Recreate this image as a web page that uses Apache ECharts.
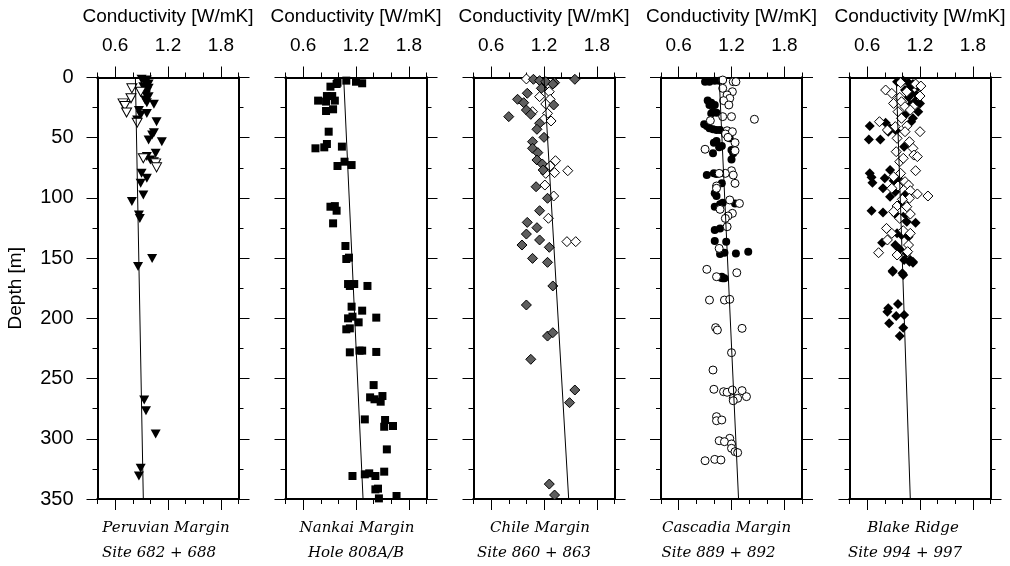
<!DOCTYPE html>
<html><head><meta charset="utf-8">
<script src="https://cdn.jsdelivr.net/npm/echarts@6/dist/echarts.min.js"></script>
<style>html,body{margin:0;padding:0;background:#fff}#c{width:1010px;height:566px}</style>
</head><body><div id="c"></div>
<script>
// ---- axis / label data ----
const xMajorTicks = [0.6, 1.2, 1.8];
const depthRange = [0, 350];
const condRange = [0.4, 2.0];
const axisTitle = 'Conductivity [W/mK]';
const depthTitle = 'Depth [m]';
const siteNames = [
  ['Peruvian Margin', 'Site 682 + 688'],
  ['Nankai Margin', 'Hole 808A/B'],
  ['Chile Margin', 'Site 860 + 863'],
  ['Cascadia Margin', 'Site 889 + 892'],
  ['Blake Ridge', 'Site 994 + 997']
];

// ---- series data: [conductivity W/mK, depth m] ----
const peruFilled = [[0.90,1.5],[0.96,2.1],[0.94,4.3],[0.98,5.4],[0.92,7.6],[0.98,9],[0.96,11.8],[0.95,14.5],[0.98,15.9],[0.94,18.7],[0.96,20.9],[1.04,22.3],[0.87,27.5],[0.96,29.8],[0.89,31.1],[0.85,35.3],[1.07,36.7],[1.04,45.8],[1.02,47.7],[0.98,51.9],[1.13,53.3],[1.06,63],[0.96,65.7],[1.00,68.5],[1.04,69.9],[0.90,79.6],[0.96,83.7],[0.89,87.9],[0.92,97.6],[0.79,103],[0.87,114.2],[0.88,117],[1.02,150.2],[0.86,157],[0.93,267.8],[0.95,276.7],[1.06,296],[0.89,324.5],[0.87,331]];
const peruOpen = [[0.79,9],[0.89,11.8],[0.78,17.3],[0.69,21.5],[0.71,23.7],[0.73,29],[0.85,37.5],[0.92,67.1],[1.06,71.3],[1.07,74.6]];
const peruLine = [[0.83,0],[0.92,350]];

const nankaiSquares = [[0.99,4.3],[0.98,5.4],[1.09,2.6],[1.20,3.5],[1.27,4.8],[0.91,7.6],[0.87,15.4],[0.93,15.4],[0.77,19.2],[0.86,20],[0.96,19.2],[0.86,27.8],[0.94,26.4],[0.89,45],[0.87,55.2],[0.84,58],[0.74,58.8],[1.04,57.4],[1.07,69.9],[1.15,72.7],[0.99,73.5],[0.91,107.3],[0.96,106.8],[0.98,110.6],[0.94,121.1],[1.08,139.9],[1.09,150.7],[1.12,149.6],[1.11,171.5],[1.13,173.1],[1.18,171.5],[1.33,173.1],[1.15,190.3],[1.27,193.6],[1.11,200],[1.16,198.6],[1.23,203.3],[1.43,199.4],[1.09,209.1],[1.13,208.3],[1.13,228.2],[1.24,226.8],[1.27,226.8],[1.43,227.9],[1.40,255.4],[1.36,265.6],[1.41,267.2],[1.50,264.5],[1.48,269.2],[1.30,283.9],[1.53,284.4],[1.52,290],[1.62,289.4],[1.55,308.8],[1.16,330.9],[1.30,329.5],[1.35,328.7],[1.42,330.9],[1.52,327.3],[1.42,342],[1.45,341.4],[1.46,349.5],[1.66,347.5]];
const nankaiLine = [[1.06,0],[1.28,350]];

const chileGray = [[1.08,1.5],[1.15,2.6],[1.22,3.5],[1.32,4.3],[1.30,5.4],[1.17,9],[1.55,1.5],[1.01,13.1],[0.90,18.1],[0.97,20.9],[1.31,22.8],[1.00,27],[1.05,30.6],[0.80,32.5],[1.15,38],[1.12,43],[1.20,49.7],[1.07,53.3],[1.07,58.8],[1.13,62.4],[1.12,68.5],[1.18,71.8],[1.19,76.8],[1.11,90.7],[1.24,100.3],[1.15,110.6],[1.01,120.3],[1.12,124.7],[1.00,130],[1.15,134.9],[0.95,139.1],[1.26,141],[1.07,150.2],[1.24,153.5],[1.30,173.1],[1.00,188.9],[1.24,214.7],[1.30,211.9],[1.05,234],[1.55,259.5],[1.49,270],[1.26,337.6],[1.32,346.7]];
const chileOpen = [[1.00,1.2],[1.27,7.1],[1.26,11.8],[1.15,15.9],[1.27,18.1],[1.22,22],[1.07,28.4],[1.24,29.8],[1.20,34.7],[1.28,36.1],[1.33,69.1],[1.27,73.5],[1.22,79.6],[1.32,79],[1.47,77.4],[1.21,89.3],[1.31,98.4],[1.25,116.9],[1.46,136.3],[1.56,136.3]];
const chileLine = [[1.20,0],[1.48,350]];

const cascFilled = [[0.90,3.5],[0.95,3.5],[1.01,2.6],[1.06,2.6],[0.93,19.2],[0.97,20.9],[0.95,22.8],[1.01,22.8],[0.99,28.4],[1.03,29.2],[0.97,29.8],[0.89,38.9],[0.92,40.3],[0.95,42.2],[0.99,43],[1.03,43.6],[1.07,43.6],[1.18,50.5],[1.03,52.7],[1.00,54.1],[1.09,56.9],[1.06,58],[0.99,63],[1.20,60.2],[1.22,63],[1.20,68],[0.92,81],[1.00,79.6],[1.03,80.1],[1.09,87.9],[1.01,96.2],[1.03,98.4],[1.01,107.3],[1.07,105.2],[1.10,103.9],[1.24,104.6],[1.01,126.6],[1.07,125.3],[1.01,135.8],[1.14,136.3],[1.07,146.6],[1.12,145.5],[1.25,146.1],[1.39,144.6],[1.09,165.4],[1.12,166.8],[1.08,166.2],[1.10,166.8]];
const cascOpen = [[1.10,2.1],[1.22,3.5],[1.25,3.5],[1.10,9],[1.21,11.8],[1.15,14.5],[1.18,17.3],[1.11,19.2],[1.17,22.8],[1.10,32.5],[1.20,32.5],[1.46,34.7],[0.96,35.8],[1.15,44.2],[1.21,45],[1.13,46.9],[1.16,49.7],[1.24,54.1],[0.90,59.6],[1.24,60.8],[1.20,77.4],[1.22,81],[1.13,79.6],[1.06,79.6],[1.24,87.9],[1.03,90.1],[1.03,92],[1.18,101.7],[1.29,104.6],[1.07,109.5],[1.21,112.8],[1.16,115],[1.13,117],[1.15,123.9],[1.06,141.9],[0.92,159.3],[1.26,162.1],[1.03,165.4],[0.95,184.8],[1.12,184.8],[1.18,184.2],[1.02,207.7],[1.04,209.7],[1.32,208.3],[1.20,228.5],[0.99,242.9],[1.00,258.9],[1.11,260.9],[1.15,261.4],[1.21,259.5],[1.32,260],[1.22,266.4],[1.27,266.4],[1.37,265],[1.22,268.4],[1.03,281.6],[1.03,285],[1.09,284.4],[1.18,299.6],[1.06,301.6],[1.12,302.4],[1.20,304.3],[1.20,307.9],[1.24,310.7],[1.27,311.5],[0.90,318.2],[1.01,317.1],[1.08,317.6]];
const cascLine = [[1.06,0],[1.28,350]];

const blakeFilled = [[0.94,3.5],[1.01,2.6],[1.07,4.3],[1.12,5.4],[1.18,7.6],[1.09,7.6],[1.03,10.4],[1.10,13.2],[1.16,14.5],[1.07,16.5],[1.14,20.1],[1.20,21.5],[1.09,22.8],[1.18,28.4],[1.03,31.1],[1.12,33.9],[1.10,36.7],[0.63,40.3],[0.81,37.5],[0.86,42.2],[0.62,51.4],[0.75,51.4],[0.84,45],[0.93,44.2],[1.02,57.4],[0.86,76.8],[0.63,79.6],[0.65,82.9],[0.66,87.3],[0.80,83.7],[0.78,92],[0.90,85.7],[0.95,83.7],[0.86,99],[0.92,94.8],[1.03,97.6],[0.98,104.5],[0.65,110.6],[0.78,112.2],[0.93,114.2],[1.01,115.6],[1.15,120.6],[1.05,119.7],[0.94,129.4],[0.99,130.8],[1.07,132.2],[0.77,137.2],[0.92,139.1],[0.97,142.7],[1.05,146],[1.09,151.6],[1.12,152.9],[1.02,151.6],[0.89,160.4],[1.00,162.6],[1.08,152.9],[1.12,153.8],[0.89,161.2],[1.01,164],[0.95,188.1],[0.84,191.7],[0.83,194.5],[0.93,198.1],[1.02,197.2],[0.85,204.1],[1.01,207.7],[0.97,214.7]];
const blakeOpen = [[0.81,10.4],[0.98,4.3],[1.15,5.4],[1.21,7.1],[0.88,13.2],[1.05,11.8],[0.97,16.5],[1.20,15.4],[0.90,21.5],[0.99,20.1],[1.12,24.2],[1.03,24.2],[1.09,27],[0.95,28.4],[0.99,33.9],[0.74,36.7],[0.83,43.6],[0.92,40.8],[1.05,40.3],[1.20,45],[0.94,50.5],[1.03,45],[1.08,53.3],[1.12,58.8],[1.13,64.4],[1.17,65.7],[0.93,61.6],[0.97,69.9],[1.01,67.1],[1.15,77.4],[0.90,82.4],[0.98,79.6],[1.03,86.5],[1.07,89.3],[0.95,90.1],[0.88,92],[1.09,94],[1.29,98.4],[1.17,96.7],[1.08,100.3],[1.00,101.2],[0.94,106.7],[1.05,107.3],[0.90,111.4],[1.09,113.4],[0.97,117],[0.82,125.3],[0.88,129.4],[1.01,127.2],[1.09,129.4],[1.07,139.1],[0.83,134.9],[0.73,145.5],[1.06,144.6],[0.94,147.4]];
const blakeLine = [[0.93,0],[1.09,350]];

// ---- styles ----
const FONT = 'Liberation Sans, Arial, sans-serif';
const BLACK = '#000';
const solid = {color: BLACK, borderColor: BLACK, borderWidth: 0, opacity: 1};
const hollow = {color: '#fff', borderColor: BLACK, borderWidth: 1, opacity: 1};
const gray = {color: '#5e5e5e', borderColor: BLACK, borderWidth: 1, opacity: 1};

const panels = [
  {marks: [
    {data: peruFilled, symbol: 'triangle', size: [10, 9], rotate: 180, style: solid},
    {data: peruOpen, symbol: 'triangle', size: [10, 9], rotate: 180, style: hollow}], line: peruLine},
  {marks: [
    {data: nankaiSquares, symbol: 'rect', size: 8, style: solid}], line: nankaiLine},
  {marks: [
    {data: chileOpen, symbol: 'diamond', size: 10, style: hollow},
    {data: chileGray, symbol: 'diamond', size: 10, style: gray}], line: chileLine},
  {marks: [
    {data: cascFilled, symbol: 'circle', size: 8, style: solid},
    {data: cascOpen, symbol: 'circle', size: 8, style: hollow}], line: cascLine},
  {marks: [
    {data: blakeFilled, symbol: 'diamond', size: 10, style: solid},
    {data: blakeOpen, symbol: 'diamond', size: 10, style: hollow}], line: blakeLine}
];

const lefts = [97.5, 285.5, 473.5, 661, 849.5];
const gridW = 141, gridTop = 77.5, gridH = 421.5;
const nameShift1 = [-2, 1, -4, -5, -7];
const nameShift2 = [-9, 0, -10, -13, -15];

const grids = [], xAxes = [], yAxes = [], series = [], graphics = [];
const lineAx = {show: true, onZero: false, lineStyle: {color: BLACK, width: 2}};
const tickStyle = {color: BLACK, width: 1};

panels.forEach((p, i) => {
  grids.push({left: lefts[i], top: gridTop, width: gridW, height: gridH});
  const bx = {gridIndex: i, type: 'value', min: condRange[0], max: condRange[1], axisLine: lineAx, splitLine: {show: false}};
  xAxes.push(Object.assign({}, bx, {position: 'top',
    name: axisTitle, nameLocation: 'middle', nameGap: 51,
    nameTextStyle: {fontFamily: FONT, fontSize: 19, color: BLACK},
    axisTick: {show: true, customValues: xMajorTicks, length: 11, lineStyle: tickStyle},
    axisLabel: {show: true, customValues: xMajorTicks, margin: 22, fontFamily: FONT, fontSize: 19, color: BLACK, formatter: v => v.toFixed(1)}}));
  xAxes.push(Object.assign({}, bx, {position: 'top', interval: 0.2,
    axisTick: {show: true, length: 5, lineStyle: tickStyle}, axisLabel: {show: false}}));
  xAxes.push(Object.assign({}, bx, {position: 'bottom',
    axisTick: {show: true, customValues: xMajorTicks, length: 11, lineStyle: tickStyle}, axisLabel: {show: false}}));
  xAxes.push(Object.assign({}, bx, {position: 'bottom', interval: 0.2,
    axisTick: {show: true, length: 5, lineStyle: tickStyle}, axisLabel: {show: false}}));

  const by = {gridIndex: i, type: 'value', inverse: true, min: depthRange[0], max: depthRange[1], axisLine: lineAx, splitLine: {show: false}};
  const leftMajor = Object.assign({}, by, {position: 'left', interval: 50,
    axisTick: {show: true, length: 11, lineStyle: tickStyle},
    axisLabel: {show: i === 0, margin: 24, fontFamily: FONT, fontSize: 20, color: BLACK}});
  if (i === 0) Object.assign(leftMajor, {name: depthTitle, nameLocation: 'middle', nameRotate: 90, nameGap: 72,
    nameTextStyle: {fontFamily: FONT, fontSize: 19, color: BLACK}});
  yAxes.push(leftMajor);
  yAxes.push(Object.assign({}, by, {position: 'left', interval: 25, axisTick: {show: true, length: 5, lineStyle: tickStyle}, axisLabel: {show: false}}));
  yAxes.push(Object.assign({}, by, {position: 'right', interval: 50, axisTick: {show: true, length: 11, lineStyle: tickStyle}, axisLabel: {show: false}}));
  yAxes.push(Object.assign({}, by, {position: 'right', interval: 25, axisTick: {show: true, length: 5, lineStyle: tickStyle}, axisLabel: {show: false}}));

  p.marks.forEach(m => {
    series.push({type: 'scatter', xAxisIndex: 4 * i, yAxisIndex: 4 * i, data: m.data,
      symbol: m.symbol, symbolSize: m.size, symbolRotate: m.rotate || 0,
      itemStyle: m.style, silent: true, animation: false, z: 2});
  });
  series.push({type: 'line', xAxisIndex: 4 * i, yAxisIndex: 4 * i, data: p.line, showSymbol: false, symbol: 'none',
    lineStyle: {color: BLACK, width: 1}, silent: true, animation: false, z: 3});

  const cx = lefts[i] + gridW / 2;
  graphics.push({type: 'text', x: cx + nameShift1[i], y: 528, style: {text: siteNames[i][0], font: 'italic 15px "DejaVu Serif", serif', fill: BLACK, textAlign: 'center', textVerticalAlign: 'middle'}});
  graphics.push({type: 'text', x: cx + nameShift2[i], y: 553, style: {text: siteNames[i][1], font: 'italic 15px "DejaVu Serif", serif', fill: BLACK, textAlign: 'center', textVerticalAlign: 'middle'}});
});

const chart = echarts.init(document.getElementById('c'), null, {renderer: 'canvas'});
chart.setOption({
  animation: false,
  backgroundColor: '#fff',
  grid: grids, xAxis: xAxes, yAxis: yAxes, series: series, graphic: graphics
});
</script></body></html>
